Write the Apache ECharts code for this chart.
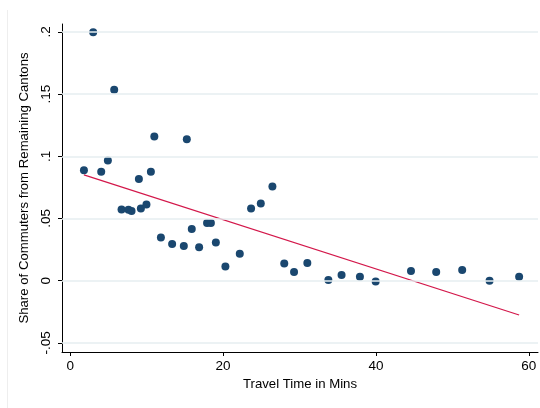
<!DOCTYPE html>
<html>
<head>
<meta charset="utf-8">
<script src="https://cdn.jsdelivr.net/npm/echarts@6/dist/echarts.min.js"></script>
<style>
  html, body { margin: 0; padding: 0; background: #fff; }
  #chart { width: 540px; height: 408px; }
</style>
</head>
<body>
<div id="chart"></div>
<script>
// travel time (mins) and share of commuters
const travelTime = [1.79, 3.0, 4.05, 4.92, 5.75, 6.71, 7.62, 8.02, 8.98, 9.24,
  9.97, 10.55, 11.0, 11.86, 13.33, 14.86, 15.25, 15.9, 16.86, 17.9,
  18.4, 19.05, 20.3, 22.18, 23.66, 24.93, 26.45, 28.0, 29.28, 31.02,
  33.77, 35.5, 37.9, 39.96, 44.58, 47.88, 51.28, 54.86, 58.73];
const share = [0.0887, 0.1996, 0.0876, 0.0967, 0.1535, 0.0573, 0.0571, 0.056, 0.0817, 0.0581,
  0.0613, 0.0876, 0.1158, 0.0348, 0.0295, 0.0279, 0.1136, 0.0415, 0.0268, 0.0464,
  0.0464, 0.0308, 0.0115, 0.0217, 0.0581, 0.0621, 0.0758, 0.0139, 0.007, 0.0142,
  0.0006, 0.0046, 0.0032, -0.0006, 0.0078, 0.007, 0.0086, 0.0, 0.0032];

// fitted line end points
const fitX = [1.79, 58.73];
const fitY = [0.085, -0.0276];

const xTicks = [0, 20, 40, 60];
const yTicks = [-0.05, 0, 0.05, 0.1, 0.15, 0.2];

const font = 'Liberation Sans, Arial, sans-serif';

const chart = echarts.init(document.getElementById('chart'));

const fmtY = v => (v === 0 ? '0' : String(v).replace('0.', '.'));

chart.setOption({
  backgroundColor: '#fff',
  animation: false,
  graphic: [{
    type: 'line',
    shape: { x1: 7.5, y1: 10, x2: 7.5, y2: 408 },
    style: { stroke: '#eeeeee', lineWidth: 1 },
    silent: true
  }],
  grid: { left: 62, right: 2, top: 24, bottom: 56 },
  xAxis: {
    type: 'value',
    min: -1.08,
    max: 61.2,
    name: 'Travel Time in Mins',
    nameLocation: 'middle',
    nameGap: 22,
    nameTextStyle: { fontFamily: font, fontSize: 13.2, color: '#000', verticalAlign: 'top' },
    axisLine: { onZero: false, lineStyle: { color: '#000', width: 1 } },
    axisTick: { show: true, customValues: xTicks, length: 4, lineStyle: { color: '#000' } },
    axisLabel: { customValues: xTicks, fontFamily: font, fontSize: 13.5, color: '#000', margin: 7 },
    splitLine: { show: false }
  },
  yAxis: {
    type: 'value',
    min: -0.0573,
    max: 0.2063,
    name: 'Share of Commuters from Remaining Cantons',
    nameLocation: 'middle',
    nameGap: 21,
    nameTextStyle: { fontFamily: font, fontSize: 13.2, color: '#000' },
    axisLine: { show: true, onZero: false, lineStyle: { color: '#000', width: 1 } },
    axisTick: { show: true, customValues: yTicks, length: 4, lineStyle: { color: '#000' } },
    axisLabel: {
      customValues: yTicks, rotate: 90, fontFamily: font, fontSize: 13.5, color: '#000',
      margin: 9, formatter: fmtY
    },
    splitLine: { show: false }
  },
  series: [
    {
      type: 'line',
      data: yTicks.map(v => [0, v]),
      symbol: 'none',
      lineStyle: { opacity: 0 },
      silent: true,
      markLine: {
        silent: true,
        symbol: 'none',
        label: { show: false },
        lineStyle: { color: '#e6eef1', width: 1.5, type: 'solid' },
        data: yTicks.map(v => ({ yAxis: v }))
      }
    },
    {
      type: 'scatter',
      data: travelTime.map((t, i) => [t, share[i]]),
      symbol: 'circle',
      symbolSize: 8,
      itemStyle: { color: '#1a476f', opacity: 1 },
      z: 3
    },
    {
      type: 'line',
      data: fitX.map((t, i) => [t, fitY[i]]),
      symbol: 'none',
      lineStyle: { color: '#d3174a', width: 1.2 },
      z: 2
    }
  ]
});
</script>
</body>
</html>
